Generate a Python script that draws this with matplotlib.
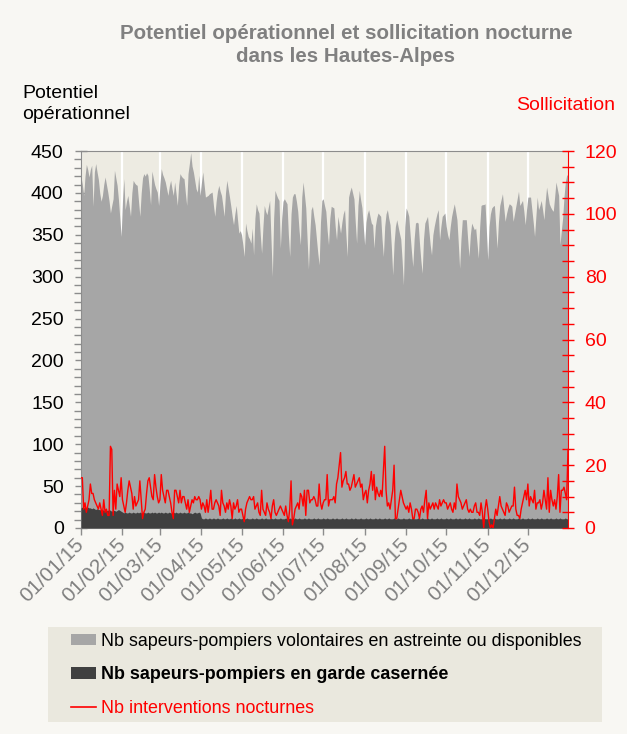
import matplotlib.pyplot as plt
import matplotlib.dates as mdates
from matplotlib.ticker import MultipleLocator
from matplotlib.patches import Patch, Rectangle
from matplotlib.lines import Line2D
import pandas as pd

# Daily values, 2015 (one line per month)
potentiel = [
    419, 410, 397, 420, 434, 428, 419, 428, 433, 384, 425, 435, 425, 416, 400, 390, 397, 410, 419, 410, 401, 390, 376, 385, 393, 427, 418, 409, 392, 370, 348,
    390, 417, 380, 390, 397, 385, 372, 400, 415, 412, 410, 409, 390, 372, 400, 418, 423, 420, 424, 421, 405, 386, 426, 418, 410, 405, 401, 385,
    410, 429, 422, 418, 413, 405, 397, 408, 415, 405, 397, 413, 400, 385, 410, 423, 420, 418, 417, 400, 385, 423, 435, 448, 432, 425, 415, 405, 401, 421, 397,
    412, 425, 410, 395, 396, 397, 399, 400, 401, 385, 372, 390, 402, 409, 402, 397, 385, 372, 400, 415, 405, 395, 384, 372, 362, 375, 385, 368, 352, 355,
    350, 338, 324, 364, 355, 348, 345, 340, 358, 326, 370, 387, 380, 376, 350, 328, 360, 385, 378, 374, 383, 391, 345, 300, 370, 403, 398, 394, 391, 334, 370,
    390, 393, 390, 387, 350, 324, 375, 395, 399, 399, 390, 378, 355, 338, 395, 413, 398, 382, 345, 309, 350, 380, 384, 372, 362, 345, 328, 314, 365, 391,
    393, 385, 378, 355, 338, 370, 384, 383, 382, 360, 344, 372, 362, 352, 365, 375, 380, 350, 324, 395, 402, 407, 400, 393, 365, 340, 385, 403, 392, 382, 360,
    338, 365, 375, 380, 372, 364, 362, 334, 360, 370, 376, 374, 372, 345, 324, 360, 375, 380, 370, 362, 335, 302, 340, 360, 368, 360, 352, 345, 320, 290, 360,
    382, 378, 372, 350, 330, 312, 345, 364, 365, 364, 340, 320, 304, 345, 364, 368, 372, 355, 338, 326, 350, 360, 368, 375, 380, 344, 360, 372, 374, 376,
    360, 350, 344, 360, 372, 380, 387, 378, 368, 340, 310, 345, 368, 368, 368, 368, 345, 324, 350, 364, 360, 356, 358, 340, 322, 360, 385, 386, 386, 387, 355,
    320, 360, 375, 382, 384, 385, 360, 334, 365, 385, 392, 399, 382, 366, 375, 382, 387, 386, 384, 366, 375, 384, 393, 402, 385, 388, 391, 378, 362, 380,
    395, 395, 395, 380, 365, 348, 372, 395, 380, 385, 391, 380, 368, 390, 407, 397, 387, 383, 380, 378, 395, 413, 405, 397, 338, 355, 370, 395, 413, 421, 422,
]

garde = [
    24, 25, 24, 25, 24, 25, 24, 24, 23, 24, 23, 22, 23, 22, 22, 21, 22, 21, 22, 21, 21, 22, 21, 20, 21, 21, 20, 21, 22, 21, 20,
    19, 18, 19, 18, 18, 19, 18, 18, 19, 18, 18, 19, 18, 19, 18, 18, 19, 18, 18, 19, 18, 18, 19, 18, 19, 18, 18, 19,
    18, 19, 18, 18, 19, 18, 18, 19, 18, 18, 19, 18, 19, 18, 18, 19, 18, 18, 19, 18, 18, 19, 18, 18, 17, 18, 19, 18, 18, 19, 18,
    12, 11, 11, 12, 11, 11, 12, 11, 11, 12, 11, 11, 12, 11, 11, 11, 12, 11, 11, 12, 11, 11, 12, 11, 11, 12, 11, 11, 12, 11,
    11, 12, 11, 11, 12, 11, 11, 11, 12, 11, 11, 12, 11, 11, 11, 12, 11, 11, 12, 11, 11, 11, 12, 11, 11, 12, 11, 11, 11, 12, 11,
    11, 11, 12, 11, 11, 12, 11, 11, 11, 12, 11, 11, 12, 11, 11, 11, 12, 11, 11, 12, 11, 11, 11, 12, 11, 11, 12, 11, 11, 11,
    12, 11, 11, 12, 11, 11, 11, 12, 11, 11, 12, 11, 11, 11, 12, 11, 11, 12, 11, 11, 11, 12, 11, 11, 12, 11, 11, 11, 12, 11, 11,
    11, 12, 11, 11, 12, 11, 11, 11, 12, 11, 11, 12, 11, 11, 11, 12, 11, 11, 12, 11, 11, 11, 12, 11, 11, 12, 11, 11, 11, 12, 11,
    11, 11, 12, 11, 11, 12, 11, 11, 11, 12, 11, 11, 12, 11, 11, 11, 12, 11, 11, 12, 11, 11, 11, 12, 11, 11, 12, 11, 11, 11,
    12, 11, 11, 12, 11, 11, 11, 12, 11, 11, 12, 11, 11, 11, 12, 11, 11, 12, 11, 11, 11, 12, 11, 11, 12, 11, 11, 11, 12, 11, 11,
    11, 11, 12, 11, 11, 12, 11, 11, 11, 12, 11, 11, 12, 11, 11, 11, 12, 11, 11, 12, 11, 11, 11, 12, 11, 11, 12, 11, 11, 11,
    12, 11, 11, 12, 11, 11, 11, 12, 11, 11, 12, 11, 11, 11, 12, 11, 11, 12, 11, 11, 11, 12, 11, 11, 12, 11, 11, 11, 12, 11, 11,
]

interventions = [
    16, 16, 6, 8, 5, 7, 9, 14, 11, 11, 9, 8, 7, 6, 8, 6, 4, 9, 5, 6, 4, 4, 26, 25, 4, 12, 6, 14, 12, 10, 16,
    9, 7, 5, 8, 12, 15, 13, 11, 6, 10, 7, 8, 9, 15, 9, 3, 5, 6, 11, 15, 16, 13, 10, 9, 17, 13, 10, 8,
    9, 17, 12, 10, 8, 12, 12, 10, 8, 5, 3, 12, 12, 10, 8, 12, 8, 10, 10, 8, 6, 9, 5, 7, 9, 8, 10, 9, 9, 10, 9,
    6, 8, 7, 5, 9, 5, 8, 12, 6, 6, 8, 9, 8, 7, 4, 12, 8, 7, 5, 8, 6, 9, 7, 3, 8, 6, 7, 9, 5, 6,
    6, 4, 2, 6, 8, 9, 10, 9, 9, 10, 6, 7, 8, 5, 4, 12, 6, 5, 4, 8, 6, 5, 3, 7, 9, 5, 4, 5, 6, 7, 6,
    5, 4, 7, 4, 2, 6, 15, 1, 3, 6, 7, 8, 6, 11, 10, 7, 12, 4, 12, 12, 8, 9, 9, 10, 9, 7, 7, 14, 8, 6,
    8, 9, 9, 17, 7, 9, 9, 9, 10, 8, 14, 16, 20, 24, 13, 15, 16, 18, 14, 14, 12, 13, 15, 17, 13, 14, 15, 16, 13, 14, 9,
    11, 12, 8, 12, 14, 18, 12, 17, 9, 13, 11, 10, 12, 10, 18, 26, 12, 7, 8, 6, 9, 12, 20, 3, 3, 6, 9, 12, 10, 8, 7,
    6, 7, 5, 8, 6, 3, 3, 6, 6, 5, 3, 6, 7, 5, 9, 12, 3, 8, 6, 7, 8, 6, 8, 7, 6, 9, 7, 8, 9, 8,
    8, 6, 7, 8, 6, 5, 8, 6, 14, 10, 9, 8, 6, 7, 8, 9, 6, 5, 6, 5, 5, 7, 8, 5, 5, 4, 8, 5, 0, 6, 9,
    6, 2, 0, 1, 0, 3, 6, 4, 7, 10, 7, 6, 5, 4, 8, 7, 5, 6, 7, 7, 13, 6, 4, 4, 3, 6, 8, 10, 12, 9,
    14, 7, 10, 9, 8, 12, 6, 8, 8, 9, 6, 8, 12, 9, 6, 16, 5, 12, 9, 7, 9, 6, 10, 17, 5, 12, 12, 13, 11, 9, 25,
]

series_labels = [
    "Nb sapeurs-pompiers volontaires en astreinte ou disponibles",
    "Nb sapeurs-pompiers en garde casernée",
    "Nb interventions nocturnes",
]

FIG_BG = "#f8f7f3"
PLOT_BG = "#edebe2"
LEGEND_BG = "#eae8de"
LIGHT = "#a6a6a6"
DARK = "#404040"
AXIS_GREY = "#8c8c8c"

W, H = 627, 734  # figure size in pixels

plt.rcParams['font.family'] = ['Liberation Sans', 'DejaVu Sans']

assert len(potentiel) == len(garde) == len(interventions) == 365
dates = pd.date_range("2015-01-01", periods=len(potentiel), freq="D")

fig = plt.figure(figsize=(W / 100, H / 100), dpi=100, facecolor=FIG_BG)
ax = fig.add_axes([81 / W, 1 - 528 / H, 487 / W, 377 / H])
ax.set_facecolor(PLOT_BG)

# areas
ax.fill_between(dates, 0, potentiel, color=LIGHT, lw=0, zorder=2)
ax.fill_between(dates, 0, garde, color=DARK, lw=0, zorder=3)

ax.set_xlim(dates[0], dates[-1])
ax.set_ylim(0, 450)
ax.yaxis.set_major_locator(MultipleLocator(50))
ax.yaxis.set_minor_locator(MultipleLocator(10))
ax.xaxis.set_major_locator(mdates.MonthLocator())
ax.xaxis.set_major_formatter(mdates.DateFormatter('%d/%m/%y'))

ax.grid(axis='x', color='white', lw=1.6)
ax.set_axisbelow(True)

for side in ['top', 'left', 'bottom']:
    ax.spines[side].set_color(AXIS_GREY)
ax.spines['right'].set_visible(False)

ax.tick_params(axis='y', which='major', direction='inout', length=9, width=1,
               color=AXIS_GREY, labelsize=14, pad=8, labelcolor='black')
ax.tick_params(axis='y', which='minor', direction='out', length=5, width=1, color=AXIS_GREY)
ax.tick_params(axis='x', which='major', direction='out', length=5, width=1,
               color=AXIS_GREY, labelsize=15, labelcolor='#808080', pad=5)
plt.setp(ax.get_xticklabels(), rotation=45, ha='right', va='center', rotation_mode='anchor')

# sollicitation on the right axis
ax2 = ax.twinx()
ax2.plot(dates, interventions, color='red', lw=1.0)
ax2.set_ylim(0, 120)
ax2.yaxis.set_major_locator(MultipleLocator(20))
ax2.yaxis.set_minor_locator(MultipleLocator(5))
for side in ['top', 'left', 'bottom']:
    ax2.spines[side].set_visible(False)
ax2.spines['right'].set_color('red')
ax2.tick_params(axis='y', which='both', direction='inout', length=8, width=1,
                color='red', labelcolor='red', labelsize=14, pad=8)

# texts
fig.text(346 / W, 1 - 45 / H,
         "Potentiel opérationnel et sollicitation nocturne\ndans les Hautes-Alpes",
         ha='center', va='center', fontsize=14.8, fontweight='bold', color='#808080',
         linespacing=1.25)
fig.text(22 / W, 1 - 104 / H, "Potentiel\nopérationnel", ha='left', va='center',
         fontsize=14, linespacing=1.25)
fig.text(615 / W, 1 - 106 / H, "Sollicitation", ha='right', va='center',
         fontsize=14, color='red')

# legend box
fig.patches.append(Rectangle((48 / W, 1 - 722 / H), 554 / W, 95 / H,
                             transform=fig.transFigure, figure=fig,
                             facecolor=LEGEND_BG, edgecolor='none'))
handles = [Patch(facecolor=LIGHT), Patch(facecolor=DARK), Line2D([], [], color='red', lw=1.2)]
leg = fig.legend(handles, series_labels, loc='upper left',
                 bbox_to_anchor=(71 / W, 1 - 633 / H), frameon=False, fontsize=12.9,
                 handlelength=1.4, handleheight=0.6, handletextpad=0.25,
                 labelspacing=0.92, borderpad=0, borderaxespad=0)
texts = leg.get_texts()
texts[1].set_fontweight('bold')
texts[2].set_color('red')

fig.savefig('out.png', dpi=100, facecolor=FIG_BG)
